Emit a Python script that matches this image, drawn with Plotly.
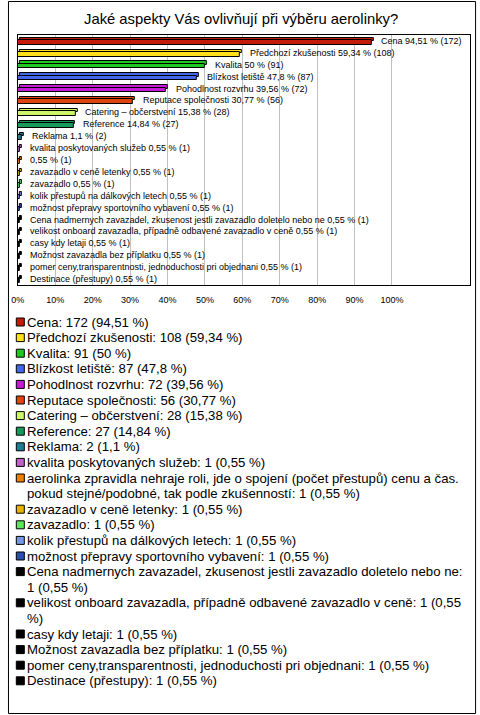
import plotly.graph_objects as go

# ---------------- data ----------------
chart_names = [
    "Cena", "Předchozí zkušenosti", "Kvalita", "Blízkost letiště", "Pohodlnost rozvrhu",
    "Reputace společnosti", "Catering – občerstvení", "Reference", "Reklama",
    "kvalita poskytovaných služeb", "", "zavazadlo v ceně letenky", "zavazadlo",
    "kolik přestupů na dálkových letech", "možnost přepravy sportovního vybavení",
    "Cena nadmernych zavazadel, zkusenost jestli zavazadlo doletelo nebo ne",
    "velikost onboard zavazadla, případně odbavené zavazadlo v ceně",
    "casy kdy letaji", "Možnost zavazadla bez příplatku",
    "pomer ceny,transparentnosti, jednoduchosti pri objednani", "Destinace (přestupy)",
]
legend_names = [
    "Cena", "Předchozí zkušenosti", "Kvalita", "Blízkost letiště", "Pohodlnost rozvrhu",
    "Reputace společnosti", "Catering – občerstvení", "Reference", "Reklama",
    "kvalita poskytovaných služeb",
    "aerolinka zpravidla nehraje roli, jde o spojení (počet přestupů) cenu a čas. pokud stejné/podobné, tak podle zkušenností",
    "zavazadlo v ceně letenky", "zavazadlo",
    "kolik přestupů na dálkových letech", "možnost přepravy sportovního vybavení",
    "Cena nadmernych zavazadel, zkusenost jestli zavazadlo doletelo nebo ne",
    "velikost onboard zavazadla, případně odbavené zavazadlo v ceně",
    "casy kdy letaji", "Možnost zavazadla bez příplatku",
    "pomer ceny,transparentnosti, jednoduchosti pri objednani", "Destinace (přestupy)",
]
counts = [172, 108, 91, 87, 72, 56, 28, 27, 2, 1, 1, 1, 1, 1, 1, 1, 1, 1, 1, 1, 1]
percents = [94.51, 59.34, 50, 47.8, 39.56, 30.77, 15.38, 14.84, 1.1,
            0.55, 0.55, 0.55, 0.55, 0.55, 0.55, 0.55, 0.55, 0.55, 0.55, 0.55, 0.55]
pct_text = ["94,51", "59,34", "50", "47,8", "39,56", "30,77", "15,38", "14,84", "1,1",
            "0,55", "0,55", "0,55", "0,55", "0,55", "0,55", "0,55", "0,55", "0,55",
            "0,55", "0,55", "0,55"]
colors = ["#c41a0a", "#ffe01a", "#1ec81e", "#4466e8", "#c41ad6", "#e0440e", "#ccf56a",
          "#17995a", "#1f7d92", "#c060c8", "#ee8000", "#e6b400", "#5ee65a", "#7497e6",
          "#2a4fb0", "#000000", "#000000", "#000000", "#000000", "#000000", "#000000"]
# where the legend text wraps onto a second line (character index), None = no wrap
legend_wrap = [None] * 10 + [77] + [None] * 4 + [72, 71] + [None] * 4
tick_vals = [0, 10, 20, 30, 40, 50, 60, 70, 80, 90, 100]
tick_text = ["0%", "10%", "20%", "30%", "40%", "50%", "60%", "70%", "80%", "90%", "100%"]
title_text = "Jaké aspekty Vás ovlivňují při výběru aerolinky?"

# ---------------- layout constants ----------------
W, H = 480, 715
FONT = "Liberation Sans, Arial, sans-serif"
plot_l, plot_r, plot_t, plot_b = 11, 470, 35, 285
x_max = 120.9
px_per_unit = (plot_r - plot_l) / x_max
depth = 2.0 / px_per_unit
n = len(counts)
idx = list(range(n))


def py(p):
    return 1 - p / H


fig = go.Figure()

# back (top) face for 3D look
fig.add_trace(go.Bar(
    y=idx, x=percents, base=[depth] * n, orientation="h",
    width=0.28, offset=-0.28,
    marker=dict(color=colors, line=dict(color="black", width=1)),
    hoverinfo="skip", showlegend=False, xaxis="x", yaxis="y"))
# front face
fig.add_trace(go.Bar(
    y=idx, x=percents, orientation="h",
    width=0.40, offset=-0.09,
    marker=dict(color=colors, line=dict(color="black", width=1)),
    hoverinfo="skip", showlegend=False, xaxis="x", yaxis="y"))

annotations = []
for i in idx:
    lbl = (chart_names[i] + " " if chart_names[i] else "") + f"{pct_text[i]} % ({counts[i]})"
    annotations.append(dict(
        x=percents[i] + depth, y=i, xref="x", yref="y", text=lbl, showarrow=False,
        xanchor="left", yanchor="middle", xshift=6, yshift=0,
        font=dict(family=FONT, size=9, color="black")))

# ---------------- custom legend ----------------
line_h = 15.6
first_line_px = 322
leg_top_px, leg_bot_px = 305, 705

legend_lines = []
for i in idx:
    full = f"{legend_names[i]}: {counts[i]} ({pct_text[i]} %)"
    w = legend_wrap[i]
    if w is None:
        legend_lines.append([full])
    else:
        legend_lines.append([full[:w].rstrip(), full[w:].lstrip()])

line_pos = []
cur = 0
for lines in legend_lines:
    line_pos.append(cur)
    cur += len(lines)

fig.add_trace(go.Scatter(
    x=[13.5] * n, y=line_pos, mode="markers",
    marker=dict(symbol="square", size=8, color=colors, line=dict(color="black", width=1)),
    hoverinfo="skip", showlegend=False, xaxis="x2", yaxis="y2"))

for lines, p in zip(legend_lines, line_pos):
    for k, t in enumerate(lines):
        annotations.append(dict(
            x=18.5, y=p + k, xref="x2", yref="y2", text=t, showarrow=False,
            xanchor="left", yanchor="middle", align="left",
            font=dict(family=FONT, size=13.2, color="black")))

# title
annotations.append(dict(
    x=237.5 / W, y=py(19), xref="paper", yref="paper", text=title_text, showarrow=False,
    xanchor="center", yanchor="middle", font=dict(family=FONT, size=14.8, color="black")))

shapes = [dict(type="rect", xref="paper", yref="paper",
               x0=1.5 / W, x1=475.5 / W, y0=py(713.5), y1=py(1.5),
               line=dict(color="black", width=1), fillcolor="rgba(0,0,0,0)")]

y2_top = (leg_top_px - first_line_px) / line_h
y2_bot = (leg_bot_px - first_line_px) / line_h

fig.update_layout(
    width=W, height=H, autosize=False,
    margin=dict(l=0, r=0, t=0, b=0),
    paper_bgcolor="white", plot_bgcolor="white",
    barmode="overlay", bargap=0,
    showlegend=False,
    annotations=annotations, shapes=shapes,
    xaxis=dict(domain=[plot_l / W, plot_r / W], range=[0, x_max],
               tickvals=tick_vals, ticktext=tick_text, showgrid=True,
               gridcolor="#c0c0c0", gridwidth=1, zeroline=False,
               showline=True, linecolor="black", linewidth=1, mirror=True,
               ticks="", ticklabelstandoff=6,
               tickfont=dict(family=FONT, size=9, color="black"), fixedrange=True),
    yaxis=dict(domain=[py(plot_b), py(plot_t)], range=[n - 0.5, -0.5],
               showticklabels=False, showgrid=False, zeroline=False,
               showline=True, linecolor="black", linewidth=1, mirror=True,
               ticks="", fixedrange=True),
    xaxis2=dict(domain=[0, 1], range=[0, W], visible=False, fixedrange=True),
    yaxis2=dict(domain=[py(leg_bot_px), py(leg_top_px)], range=[y2_bot, y2_top],
                visible=False, fixedrange=True),
)

fig.write_html("out.html", config={"displayModeBar": False},
               post_script="document.body.style.margin='0px';document.body.style.overflow='hidden';")
